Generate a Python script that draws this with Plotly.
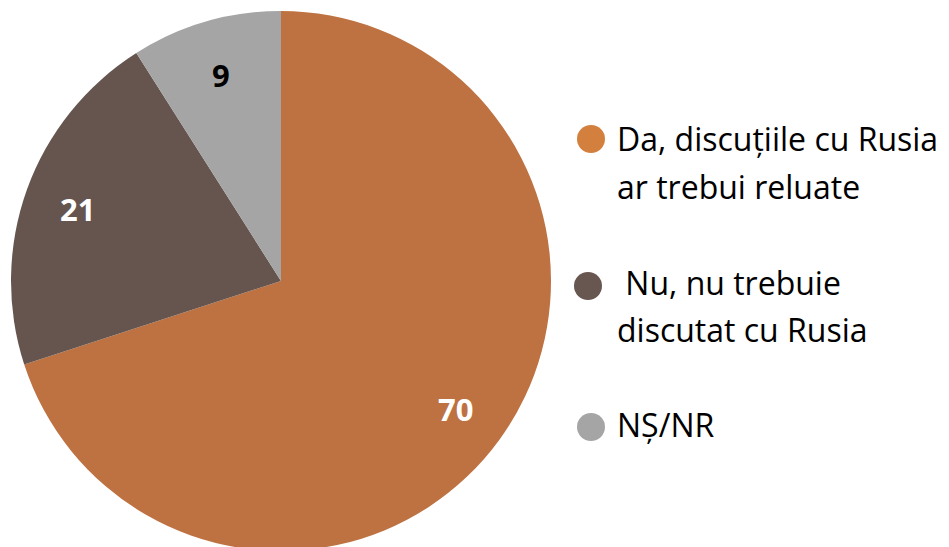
import math
import plotly.graph_objects as go

categories = ["Da, discuțiile cu Rusia<br>ar trebui reluate", " Nu, nu trebuie<br>discutat cu Rusia", "NȘ/NR"]
values = [70, 21, 9]
slice_colors = ["#BE7241", "#65554E", "#A5A5A5"]
legend_colors = ["#D3803F", "#685650", "#A5A5A5"]
label_colors = ["#FFFFFF", "#FFFFFF", "#000000"]

W, H = 949, 547
OFF = 8  # page body margin
FONT = "'Open Sans', sans-serif"

# pie geometry in page pixels
CX, CY, R = 281 - OFF, 281 - OFF, 270

fig = go.Figure()
fig.add_trace(go.Pie(
    labels=[c.replace("<br>", " ") for c in categories],
    values=values,
    sort=False,
    direction="clockwise",
    rotation=0,
    marker=dict(colors=slice_colors, line=dict(width=0)),
    textinfo="none",
    hoverinfo="label+value",
    showlegend=False,
    domain=dict(x=[(CX - R) / W, (CX + R) / W], y=[1 - (CY + R) / H, 1 - (CY - R) / H]),
))

# data labels at 0.8 R along each slice's mid-angle
total = sum(values)
cum = 0
for v, col in zip(values, label_colors):
    mid = (cum + v / 2) / total * 2 * math.pi
    cum += v
    x = CX + 0.8 * R * math.sin(mid)
    y = CY - 0.8 * R * math.cos(mid) + 1
    fig.add_annotation(x=x / W, y=1 - y / H, xref="paper", yref="paper",
                       xanchor="center", yanchor="middle", showarrow=False,
                       text=f"<b>{v}</b>",
                       font=dict(family=FONT, size=31, color=col))

# custom legend: circle markers + wrapped text
marker_pos = [(591, 139), (588, 286), (591, 427)]
baselines = [[149, 197], [293, 340], [435]]
for i, name in enumerate(categories):
    mx, my = marker_pos[i][0] - OFF, marker_pos[i][1] - OFF
    fig.add_shape(type="circle", xref="paper", yref="paper",
                  x0=(mx - 14) / W, x1=(mx + 14) / W,
                  y0=1 - (my + 14) / H, y1=1 - (my - 14) / H,
                  fillcolor=legend_colors[i], line=dict(width=0))
    for line, base in zip(name.split("<br>"), baselines[i]):
        yl = base - OFF - 11
        fig.add_annotation(x=(615 - OFF) / W, y=1 - yl / H, xref="paper", yref="paper",
                           xanchor="left", yanchor="middle", align="left",
                           text=line, showarrow=False,
                           font=dict(family=FONT, size=32, color="#000000"))

fig.update_layout(
    width=W, height=H,
    margin=dict(l=0, r=0, t=0, b=0),
    paper_bgcolor="white", plot_bgcolor="white",
)
fig.write_html("out.html")
